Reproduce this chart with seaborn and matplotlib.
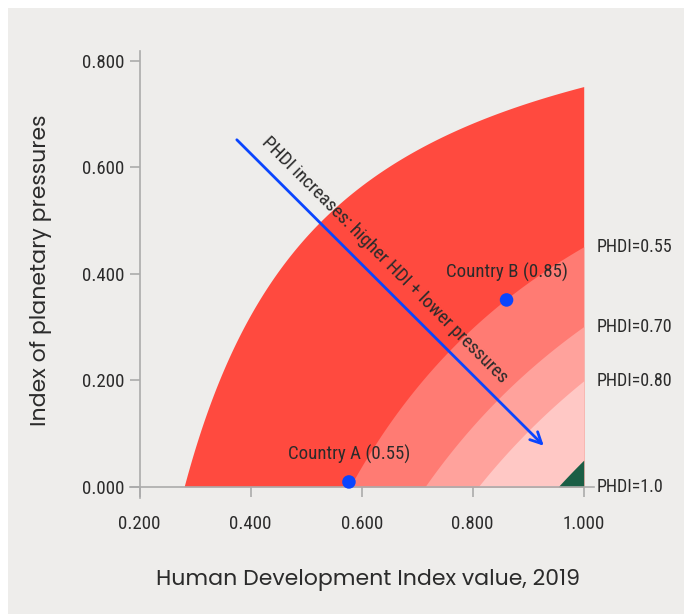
import matplotlib
matplotlib.use("Agg")
import numpy as np
import pandas as pd
import matplotlib.pyplot as plt
from matplotlib.patches import Rectangle
import seaborn as sns

# PHDI bands: HDI where each band edge meets zero pressure, and the pressure
# level where the same edge meets HDI = 1
band_hdi_at_zero = [0.28, 0.579, 0.714, 0.81, 0.954]
band_pressure_at_one = [0.752, 0.451, 0.301, 0.199, 0.05]
band_colors = ["#FF4A3F", "#FF7B73", "#FFA29C", "#FFC8C5", "#1B5E45"]

# Edge labels on the right-hand side
edge_labels = ["PHDI=0.55", "PHDI=0.70", "PHDI=0.80", "PHDI=1.0"]
edge_label_pressure = [0.451, 0.301, 0.199, 0.0]

# Example countries
countries = ["Country A (0.55)", "Country B (0.85)"]
country_hdi = [0.577, 0.861]
country_pressure = [0.009, 0.351]

# Direction arrow (start / end in data units) and its caption position
arrow_start = (0.375, 0.652)
arrow_end = (0.928, 0.077)
arrow_text = "PHDI increases: higher HDI + lower pressures"
arrow_text_pos = (0.642, 0.426)

x_ticks = [0.2, 0.4, 0.6, 0.8, 1.0]
y_ticks = [0.0, 0.2, 0.4, 0.6, 0.8]

BG = "#EEEDEB"
BLUE = "#0A45FF"
TXT = "#2B2B2B"
AXC = "#ABABAB"

sns.set_theme(style="white")
plt.rcParams["font.family"] = ["Roboto Condensed", "DejaVu Sans"]

fig = plt.figure(figsize=(6.84, 6.14), dpi=100, facecolor="white")
fig.patches.append(Rectangle((8 / 684, 0), 676 / 684, 606 / 614,
                             transform=fig.transFigure, facecolor=BG,
                             edgecolor="none", zorder=-10))
ax = fig.add_axes([129.7 / 684, 1 - 497.9 / 614, 464 / 684, 447 / 614])
ax.set_facecolor("none")

# Bands, drawn from the outermost inwards
for c, y1, col in zip(band_hdi_at_zero, band_pressure_at_one, band_colors):
    k = np.log(1 - y1) / np.log(c)
    xs = np.linspace(c, 1.0, 400)
    ys = 1 - (c / xs) ** k
    ax.fill_between(xs, 0, ys, color=col, lw=0, zorder=1)

# Countries
df = pd.DataFrame({"country": countries, "hdi": country_hdi,
                   "pressure": country_pressure})
sns.scatterplot(data=df, x="hdi", y="pressure", ax=ax, color=BLUE, s=95,
                edgecolor="none", zorder=5, clip_on=False, legend=False)
for name, hx, py in zip(countries, country_hdi, country_pressure):
    ax.annotate(name, (hx, py), xytext=(0, 19.5), textcoords="offset points",
                ha="center", va="center", fontsize=13.6, color=TXT, zorder=6)

# Direction arrow and its caption
ax.annotate("", xy=arrow_end, xytext=arrow_start,
            arrowprops=dict(arrowstyle="->", color=BLUE, lw=2,
                            mutation_scale=20, shrinkA=0, shrinkB=0),
            zorder=7)
ax.text(*arrow_text_pos, arrow_text, rotation=-45, ha="center", va="center",
        rotation_mode="anchor", fontsize=13.8, color=TXT, zorder=8)

# Edge labels outside the plot
for lab, py in zip(edge_labels, edge_label_pressure):
    ax.text(1.024, py, lab, ha="left", va="center", fontsize=13, color=TXT,
            clip_on=False)

ax.set_xlim(0.182, 1.018)
ax.set_ylim(-0.021, 0.819)
ax.set_xticks(x_ticks)
ax.set_yticks(y_ticks)
ax.set_xticklabels([f"{v:.3f}" for v in x_ticks])
ax.set_yticklabels([f"{v:.3f}" for v in y_ticks])

for s in ("top", "right"):
    ax.spines[s].set_visible(False)
ax.spines["left"].set_position(("data", 0.2))
ax.spines["bottom"].set_position(("data", 0.0))
for s in ("left", "bottom"):
    ax.spines[s].set_color(AXC)
    ax.spines[s].set_linewidth(1.2)
    ax.spines[s].set_zorder(4)
ax.tick_params(axis="both", which="major", length=7, width=1.2, color=AXC,
               labelcolor=TXT, labelsize=13.6)
ax.tick_params(axis="x", pad=13, direction="out", bottom=True)
ax.tick_params(axis="y", pad=4, direction="out", left=True)

label_font = dict(family=["Poppins", "DejaVu Sans"], size=15.8,
                  weight="normal", color=TXT)
ax.set_xlabel("Human Development Index value, 2019", fontdict=label_font)
ax.set_ylabel("Index of planetary pressures", fontdict=label_font)
ax.xaxis.label.set_va("center")
ax.yaxis.label.set_va("center")
ax.xaxis.set_label_coords(0.513, (497.9 - 580) / 447)
ax.yaxis.set_label_coords((41 - 129.7) / 464, 0.51)

fig.savefig("out.png", dpi=100, facecolor="white")
